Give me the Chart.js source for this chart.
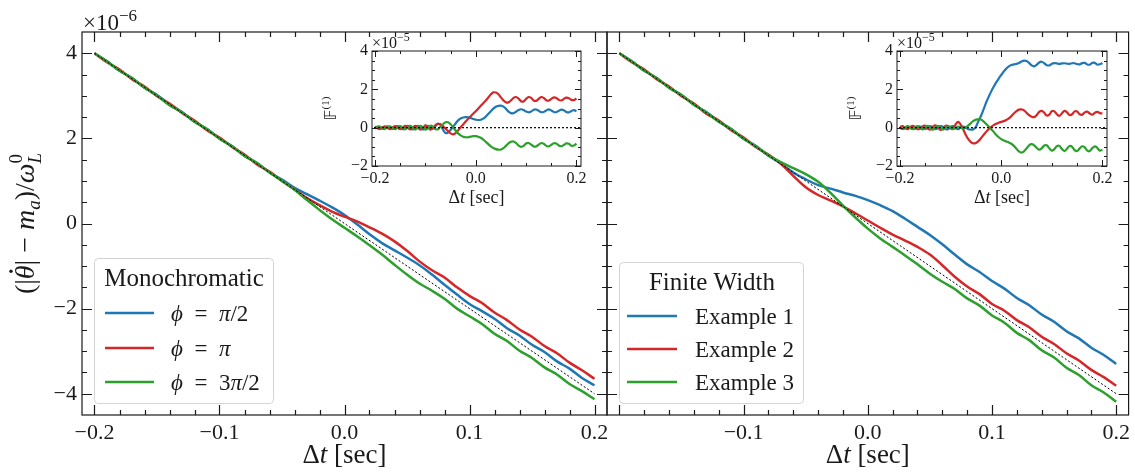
<!DOCTYPE html>
<html>
<head>
<meta charset="utf-8">
<title>Monochromatic vs finite width</title>
<script src="https://cdn.jsdelivr.net/npm/chart.js@4/dist/chart.umd.min.js"></script>
<style>
  html, body { margin: 0; padding: 0; background: #fff; }
  #stage { position: relative; width: 1135px; height: 474px; overflow: hidden; }
  #stage canvas { position: absolute; }
</style>
</head>
<body>
<div id="stage">
  <canvas id="mainLeft" width="620" height="474" style="left:0;top:0"></canvas>
  <canvas id="mainRight" width="535" height="474" style="left:600px;top:0"></canvas>
  <canvas id="insetLeft" width="275" height="185" style="left:320px;top:28px"></canvas>
  <canvas id="insetRight" width="275" height="185" style="left:845px;top:28px"></canvas>
</div>
<script>
// main panels, values in units of 1e-6
const mainT = [-0.2,-0.19,-0.18,-0.17,-0.16,-0.15,-0.14,-0.13,-0.12,-0.11,
  -0.1,-0.09,-0.08,-0.07,-0.06,-0.05,-0.04,-0.03,-0.02,-0.01,
  0,0.01,0.02,0.03,0.04,0.05,0.06,0.07,0.08,0.09,
  0.1,0.11,0.12,0.13,0.14,0.15,0.16,0.17,0.18,0.19,0.2];

const monoBlue = [4.00,3.81,3.59,3.42,3.19,3.02,2.80,2.62,2.39,2.22,
  2.00,1.82,1.59,1.42,1.20,1.03,0.84,0.69,0.54,0.38,
  0.20,-0.02,-0.25,-0.46,-0.63,-0.80,-0.98,-1.20,-1.44,-1.67,
  -1.89,-2.06,-2.24,-2.46,-2.63,-2.85,-3.02,-3.24,-3.41,-3.63,-3.80];
const monoRed = [4.00,3.79,3.62,3.39,3.22,2.99,2.82,2.60,2.42,2.19,
  2.02,1.80,1.62,1.39,1.22,1.00,0.80,0.60,0.43,0.28,
  0.16,0.05,-0.09,-0.24,-0.42,-0.64,-0.89,-1.10,-1.27,-1.50,
  -1.70,-1.87,-2.09,-2.27,-2.49,-2.66,-2.88,-3.05,-3.27,-3.45,-3.65];
const monoGreen = [4.00,3.81,3.59,3.42,3.19,3.01,2.78,2.61,2.39,2.22,
  1.99,1.81,1.59,1.42,1.20,1.00,0.79,0.55,0.32,0.10,
  -0.10,-0.30,-0.51,-0.73,-0.97,-1.20,-1.41,-1.58,-1.77,-2.00,
  -2.18,-2.36,-2.59,-2.76,-2.99,-3.16,-3.38,-3.55,-3.77,-3.94,-4.13];

const finiteBlue = [4.00,3.81,3.59,3.42,3.19,3.02,2.79,2.62,2.40,2.22,
  1.99,1.82,1.59,1.41,1.20,1.04,0.90,0.82,0.73,0.65,
  0.55,0.43,0.29,0.11,-0.08,-0.27,-0.49,-0.73,-0.96,-1.14,
  -1.35,-1.53,-1.75,-1.92,-2.14,-2.31,-2.53,-2.70,-2.92,-3.09,-3.30];
const finiteRed = [4.00,3.79,3.62,3.39,3.22,2.99,2.82,2.58,2.42,2.19,
  2.02,1.79,1.62,1.40,1.12,0.85,0.67,0.54,0.40,0.24,
  0.07,-0.10,-0.26,-0.40,-0.55,-0.73,-0.98,-1.25,-1.48,-1.66,
  -1.89,-2.05,-2.27,-2.44,-2.66,-2.83,-3.05,-3.22,-3.44,-3.61,-3.81];
const finiteGreen = [4.00,3.81,3.59,3.42,3.19,3.02,2.79,2.61,2.39,2.22,
  1.99,1.81,1.60,1.44,1.30,1.16,0.98,0.72,0.42,0.14,
  -0.12,-0.35,-0.55,-0.75,-0.96,-1.18,-1.37,-1.54,-1.76,-1.93,
  -2.16,-2.33,-2.57,-2.74,-2.98,-3.15,-3.39,-3.56,-3.80,-3.97,-4.19];

// dotted reference line
const refT = [-0.2, 0.2];
const refY = [4, -4];

// insets, values in units of 1e-5
const insetT = [-0.2,-0.195,-0.19,-0.185,-0.18,-0.175,-0.17,-0.165,-0.16,-0.155,
  -0.15,-0.145,-0.14,-0.135,-0.13,-0.125,-0.12,-0.115,-0.11,-0.105,
  -0.1,-0.095,-0.09,-0.085,-0.08,-0.075,-0.07,-0.065,-0.06,-0.055,
  -0.05,-0.045,-0.04,-0.035,-0.03,-0.025,-0.02,-0.015,-0.01,-0.005,
  0,0.005,0.01,0.015,0.02,0.025,0.03,0.035,0.04,0.045,
  0.05,0.055,0.06,0.065,0.07,0.075,0.08,0.085,0.09,0.095,
  0.1,0.105,0.11,0.115,0.12,0.125,0.13,0.135,0.14,0.145,
  0.15,0.155,0.16,0.165,0.17,0.175,0.18,0.185,0.19,0.195,0.2];

const monoInsetBlue = [0,0.06,0,-0.06,0,0.07,0,-0.07,0,0.08,
  0,-0.08,0,0.09,0,-0.09,0,0.1,0,-0.1,
  0,0.1,0,-0.05,0.08,0.2,0.15,-0.1,-0.28,-0.25,
  -0.12,0.05,0.22,0.38,0.48,0.53,0.55,0.54,0.5,0.45,
  0.42,0.4,0.41,0.47,0.58,0.72,0.86,0.99,1.09,1.14,
  1.15,1.1,0.98,0.84,0.76,0.76,0.83,0.92,0.96,0.92,
  0.84,0.8,0.84,0.93,0.95,0.88,0.81,0.82,0.9,0.95,
  0.9,0.82,0.81,0.88,0.94,0.91,0.82,0.8,0.87,0.92,0.86];
const monoInsetRed = [0.05,-0.03,-0.07,0.02,0.07,-0.02,-0.08,0.01,0.08,-0.01,
  -0.08,0,0.09,0,-0.09,0,0.1,0.01,-0.1,-0.01,
  0.12,0.03,-0.1,-0.02,0.14,0.2,0.18,0.08,-0.05,-0.18,
  -0.3,-0.35,-0.28,-0.14,0.02,0.17,0.32,0.46,0.6,0.73,
  0.86,1,1.14,1.28,1.42,1.58,1.74,1.84,1.83,1.74,
  1.58,1.42,1.32,1.32,1.42,1.55,1.6,1.52,1.38,1.37,
  1.5,1.6,1.55,1.42,1.4,1.5,1.6,1.55,1.43,1.41,
  1.5,1.58,1.55,1.45,1.42,1.5,1.57,1.54,1.45,1.44,1.52];
const monoInsetGreen = [-0.05,0.04,0.06,-0.03,-0.07,0.03,0.07,-0.02,-0.08,0.02,
  0.08,-0.01,-0.09,0.01,0.09,0,-0.1,0,0.1,0.01,
  -0.1,-0.02,0.1,0.05,-0.08,-0.08,0.05,0.18,0.28,0.28,
  0.18,0.02,-0.15,-0.3,-0.4,-0.47,-0.5,-0.5,-0.47,-0.44,
  -0.44,-0.47,-0.53,-0.62,-0.74,-0.86,-0.97,-1.06,-1.12,-1.15,
  -1.14,-1.07,-0.95,-0.82,-0.73,-0.72,-0.8,-0.93,-1,-0.95,
  -0.83,-0.8,-0.88,-0.98,-0.98,-0.88,-0.8,-0.84,-0.95,-0.98,
  -0.9,-0.81,-0.83,-0.93,-0.97,-0.9,-0.82,-0.84,-0.94,-0.93,-0.84];

const finiteInsetBlue = [0.02,-0.05,-0.03,0.05,0.04,-0.05,-0.05,0.04,0.06,-0.03,
  -0.07,0.02,0.08,0,-0.08,-0.02,0.08,0.05,-0.07,-0.08,
  0.05,0.08,-0.03,-0.08,0.02,0.06,0,-0.08,-0.1,-0.08,
  0.05,0.35,0.62,0.95,1.3,1.6,1.88,2.13,2.36,2.56,
  2.75,2.93,3.08,3.2,3.27,3.3,3.33,3.38,3.45,3.5,
  3.48,3.38,3.25,3.2,3.28,3.4,3.44,3.36,3.26,3.25,
  3.33,3.37,3.35,3.33,3.35,3.36,3.34,3.33,3.36,3.36,
  3.32,3.3,3.37,3.38,3.3,3.29,3.38,3.38,3.29,3.31,3.37];
const finiteInsetRed = [0.05,0.08,-0.02,-0.08,0.02,0.09,0.03,-0.08,-0.05,0.08,
  0.1,-0.05,-0.1,0.05,0.12,0,-0.12,-0.05,0.1,0.08,
  -0.05,-0.05,0.18,0.3,0.15,-0.1,-0.38,-0.6,-0.75,-0.82,
  -0.8,-0.7,-0.55,-0.38,-0.22,-0.08,0.04,0.13,0.2,0.26,
  0.3,0.34,0.4,0.48,0.6,0.74,0.86,0.94,0.95,0.9,
  0.78,0.65,0.57,0.55,0.65,0.82,0.88,0.78,0.63,0.68,
  0.86,0.85,0.7,0.62,0.75,0.88,0.8,0.66,0.7,0.85,
  0.84,0.7,0.68,0.8,0.84,0.74,0.68,0.78,0.82,0.76,0.74];
const finiteInsetGreen = [0,-0.08,0.02,0.08,-0.02,-0.08,0.03,0.08,-0.03,-0.09,
  0.03,0.09,-0.03,-0.1,0.03,0.1,-0.02,-0.1,0.02,0.1,
  0,-0.08,0,0.06,0,-0.04,0.02,0.12,0.24,0.35,
  0.42,0.45,0.42,0.33,0.2,0.06,-0.08,-0.22,-0.37,-0.5,
  -0.6,-0.67,-0.72,-0.77,-0.84,-0.95,-1.1,-1.24,-1.3,-1.24,
  -1.08,-0.92,-0.86,-0.92,-1.05,-1.15,-1.08,-0.93,-0.92,-1.08,
  -1.2,-1.12,-0.96,-0.95,-1.12,-1.22,-1.1,-0.96,-1,-1.17,
  -1.22,-1.08,-0.97,-1.03,-1.2,-1.22,-1.07,-0.98,-1.06,-1.2,-1.15];

// dotted zero line of the insets
const zeroT = [-0.21, 0.21];
const zeroY = [0, 0];

const monoTitle = 'Monochromatic';
const monoLabels = ['ϕ = π/2', 'ϕ = π', 'ϕ = 3π/2'];
const finiteTitle = 'Finite Width';
const finiteLabels = ['Example 1', 'Example 2', 'Example 3'];

const mainXTicks = [-0.2, -0.1, 0, 0.1, 0.2];
const mainYTicks = [-4, -2, 0, 2, 4];
const insetXTicks = [-0.2, 0, 0.2];
const insetYTicks = [-2, 0, 2, 4];

// styling
const BLUE = '#1f77b4', RED = '#d62728', GREEN = '#2ca02c';
const INK = '#1a1a1a';
const SERIF = '"Liberation Serif", "DejaVu Serif", serif';
const font = (size, italic) => (italic ? 'italic ' : '') + size + 'px ' + SERIF;
const fmt = (v, digits) => (v < 0 ? '\u2212' : '') + Math.abs(v).toFixed(digits);
const isGreek = ch => /[\u03b1-\u03c9\u03d5]/.test(ch);

function toXY(ts, ys) {
  return ts.map((t, i) => ({ x: t, y: ys[i] }));
}
function curve(ts, ys, color, width, order) {
  return { data: toXY(ts, ys), borderColor: color, borderWidth: width, pointRadius: 0,
           tension: 0.35, fill: false, order: order };
}
function dotted(ts, ys, width) {
  return { data: toXY(ts, ys), borderColor: '#000', borderWidth: width, borderDash: [2, 2],
           pointRadius: 0, tension: 0, fill: false, order: 0 };
}

// draw a row of text pieces (fonts / offsets can change per piece)
function rich(ctx, parts, x, y, align) {
  let w = 0;
  parts.forEach(p => { ctx.font = p.f; if (!p.stay) w += ctx.measureText(p.t).width; });
  let cx = align === 'center' ? x - w / 2 : x;
  ctx.textAlign = 'left';
  ctx.textBaseline = 'alphabetic';
  parts.forEach(p => {
    ctx.font = p.f;
    ctx.fillText(p.t, cx, y + (p.dy || 0));
    const pw = ctx.measureText(p.t).width;
    if (p.dot) {
      ctx.beginPath();
      ctx.arc(cx + pw * 0.58, y - p.dot, 1.7, 0, Math.PI * 2);
      ctx.fill();
    }
    if (!p.stay) cx += pw;
  });
}

const xLabel = size => [{ t: 'Δ', f: font(size) }, { t: 't', f: font(size, true) }, { t: ' [sec]', f: font(size) }];

function labelParts(label, size) {
  const greek = Array.from(label).some(isGreek);
  return Array.from(label).map(ch => ({
    t: ch === ' ' && greek ? '\u2002' : ch,
    f: font(size, isGreek(ch))
  }));
}

function drawLegend(ctx, L, title, labels, colors) {
  ctx.save();
  ctx.beginPath();
  ctx.roundRect(L.x + 0.5, L.y + 0.5, L.w, L.h, 4);
  ctx.fillStyle = 'rgba(255,255,255,0.85)';
  ctx.fill();
  ctx.strokeStyle = '#d4d4d4';
  ctx.lineWidth = 1;
  ctx.stroke();
  ctx.fillStyle = INK;
  rich(ctx, [{ t: title, f: font(25) }], L.cx, L.titleY, 'center');
  labels.forEach((lab, i) => {
    const y = L.rows[i];
    ctx.strokeStyle = colors[i];
    ctx.lineWidth = 2.6;
    ctx.beginPath();
    ctx.moveTo(L.x0, y);
    ctx.lineTo(L.x1, y);
    ctx.stroke();
    rich(ctx, labelParts(lab, 23), L.tx, y + 8, 'left');
  });
  ctx.restore();
}

function between(min, max, step) {
  const out = [];
  for (let k = Math.ceil(min / step - 1e-9); k * step <= max + 1e-9; k++) {
    const v = k * step;
    if (v > min + 1e-9 && v < max - 1e-9) out.push(v);
  }
  return out;
}

// frame with inward ticks on all four sides
function framePlugin(o) {
  return {
    id: 'frame',
    beforeDatasetsDraw(chart) {
      if (!o.fillBg) return;
      const a = chart.chartArea, ctx = chart.ctx;
      ctx.save();
      ctx.fillStyle = '#fff';
      ctx.fillRect(a.left, a.top, a.right - a.left, a.bottom - a.top);
      ctx.restore();
    },
    afterDatasetsDraw(chart) {
      const { ctx, chartArea: a, scales: { x, y } } = chart;
      ctx.save();
      ctx.strokeStyle = INK;
      ctx.lineWidth = o.lw;
      ctx.beginPath();
      const xt = (v, len) => {
        const p = Math.round(x.getPixelForValue(v)) + 0.5;
        ctx.moveTo(p, a.bottom); ctx.lineTo(p, a.bottom - len);
        ctx.moveTo(p, a.top); ctx.lineTo(p, a.top + len);
      };
      const yt = (v, len) => {
        const p = Math.round(y.getPixelForValue(v)) + 0.5;
        ctx.moveTo(a.left, p); ctx.lineTo(a.left + len, p);
        ctx.moveTo(a.right, p); ctx.lineTo(a.right - len, p);
      };
      between(x.min, x.max, o.xMinor).forEach(v => xt(v, o.minor));
      between(y.min, y.max, o.yMinor).forEach(v => yt(v, o.minor));
      o.xMajor.forEach(v => xt(v, o.major));
      o.yMajor.forEach(v => yt(v, o.major));
      ctx.stroke();
      ctx.strokeRect(a.left, a.top, a.right - a.left, a.bottom - a.top);
      ctx.restore();
    }
  };
}

function makeChart(id, box, datasets, ax, extra) {
  return new Chart(document.getElementById(id), {
    type: 'line',
    data: { datasets },
    options: {
      responsive: false,
      animation: false,
      devicePixelRatio: 1,
      layout: { padding: { left: 0, top: box.top, right: box.w - box.right, bottom: 0 } },
      plugins: { legend: { display: false }, tooltip: { enabled: false } },
      scales: {
        x: {
          type: 'linear', min: ax.xMin, max: ax.xMax,
          grid: { display: false, drawTicks: false }, border: { display: false },
          afterBuildTicks: s => { s.ticks = ax.xTicks.map(v => ({ value: v })); },
          afterFit: s => { s.height = box.h - box.bottom; },
          ticks: { autoSkip: false, maxRotation: 0, padding: ax.xPad, color: INK,
                   font: { family: SERIF, size: ax.fs },
                   callback: v => (ax.skipX && ax.skipX.includes(v)) ? '' : fmt(v, 1) }
        },
        y: {
          type: 'linear', min: ax.yMin, max: ax.yMax,
          grid: { display: false, drawTicks: false }, border: { display: false },
          afterBuildTicks: s => { s.ticks = ax.yTicks.map(v => ({ value: v })); },
          afterFit: s => { s.width = box.left; },
          ticks: { display: ax.yLabels, padding: ax.yPad, color: INK,
                   font: { family: SERIF, size: ax.fs }, callback: v => fmt(v, 0) }
        }
      }
    },
    plugins: [framePlugin(ax.frame)].concat(extra)
  });
}

const mainAxes = (yLabels, skipX) => ({
  xMin: -0.21, xMax: 0.21, yMin: -4.5, yMax: 4.5, xTicks: mainXTicks, yTicks: mainYTicks,
  fs: 22, xPad: 5, yPad: 5, yLabels: yLabels, skipX: skipX,
  frame: { lw: 1.2, major: 10, minor: 5, xMajor: mainXTicks, yMajor: mainYTicks, xMinor: 0.02, yMinor: 0.5 }
});
const insetAxes = {
  xMin: -0.206, xMax: 0.209, yMin: -2, yMax: 4, xTicks: insetXTicks, yTicks: insetYTicks,
  fs: 16, xPad: 3, yPad: 4, yLabels: true,
  frame: { lw: 1, major: 6, minor: 3, xMajor: insetXTicks, yMajor: insetYTicks, xMinor: 0.05, yMinor: 0.5, fillBg: true }
};

// text for the main panels
function mainText(id, legend, title, labels, withY) {
  return {
    id: id,
    afterDraw(chart) {
      const ctx = chart.ctx, a = chart.chartArea;
      ctx.save();
      ctx.fillStyle = INK;
      rich(ctx, xLabel(27), (a.left + a.right) / 2, 463, 'center');
      if (withY) {
        rich(ctx, [{ t: '×10', f: font(23) }, { t: '\u22126', f: font(17), dy: -9 }], a.left + 1, 30, 'left');
        ctx.translate(34, (a.top + a.bottom) / 2);
        ctx.rotate(-Math.PI / 2);
        rich(ctx, [
          { t: '(|', f: font(28) },
          { t: 'θ', f: font(28, true), dot: 23 },
          { t: '| \u2212 ', f: font(28) },
          { t: 'm', f: font(28, true) },
          { t: 'a', f: font(19, true), dy: 6 },
          { t: ')/', f: font(28) },
          { t: 'ω', f: font(28, true) },
          { t: '0', f: font(19), dy: -12, stay: true },
          { t: 'L', f: font(19, true), dy: 7 }
        ], 0, 0, 'center');
      }
      ctx.restore();
      drawLegend(ctx, legend, title, labels, [BLUE, RED, GREEN]);
    }
  };
}

function insetText(id) {
  return {
    id: id,
    afterDraw(chart) {
      const ctx = chart.ctx, a = chart.chartArea;
      ctx.save();
      ctx.fillStyle = INK;
      rich(ctx, [{ t: '×10', f: font(16) }, { t: '\u22125', f: font(12), dy: -7 }], a.left, a.top - 3, 'left');
      rich(ctx, xLabel(18), (a.left + a.right) / 2, 175, 'center');
      ctx.translate(a.left - 36, (a.top + a.bottom) / 2);
      ctx.rotate(-Math.PI / 2);
      rich(ctx, [
        { t: '𝔽', f: '16px "DejaVu Sans", "DejaVu Serif", sans-serif' },
        { t: '(1)', f: font(11), dy: -7 }
      ], 0, 0, 'center');
      ctx.restore();
    }
  };
}

const legendLeft = { x: 94, y: 258, w: 179, h: 145, cx: 184, titleY: 286, rows: [313, 348, 382], x0: 105, x1: 154, tx: 171 };
const legendRight = { x: 19, y: 262, w: 184, h: 141, cx: 112, titleY: 290, rows: [316, 349, 382], x0: 27, x1: 77, tx: 95 };

makeChart('mainLeft', { w: 620, h: 474, left: 82, right: 607, top: 32, bottom: 415 }, [
  curve(mainT, monoBlue, BLUE, 2.5, 3),
  curve(mainT, monoRed, RED, 2.5, 2),
  curve(mainT, monoGreen, GREEN, 2.5, 1),
  dotted(refT, refY, 1)
], mainAxes(true, null), [mainText('textLeft', legendLeft, monoTitle, monoLabels, true)]);

makeChart('mainRight', { w: 535, h: 474, left: 7, right: 532, top: 32, bottom: 415 }, [
  curve(mainT, finiteBlue, BLUE, 2.5, 3),
  curve(mainT, finiteRed, RED, 2.5, 2),
  curve(mainT, finiteGreen, GREEN, 2.5, 1),
  dotted(refT, refY, 1)
], mainAxes(false, [-0.2]), [mainText('textRight', legendRight, finiteTitle, finiteLabels, false)]);

makeChart('insetLeft', { w: 275, h: 185, left: 52, right: 261, top: 23, bottom: 138 }, [
  curve(insetT, monoInsetBlue, BLUE, 2.2, 3),
  curve(insetT, monoInsetRed, RED, 2.2, 2),
  curve(insetT, monoInsetGreen, GREEN, 2.2, 1),
  dotted(zeroT, zeroY, 1.2)
], insetAxes, [insetText('insetTextLeft')]);

makeChart('insetRight', { w: 275, h: 185, left: 52, right: 262, top: 23, bottom: 138 }, [
  curve(insetT, finiteInsetBlue, BLUE, 2.2, 3),
  curve(insetT, finiteInsetRed, RED, 2.2, 2),
  curve(insetT, finiteInsetGreen, GREEN, 2.2, 1),
  dotted(zeroT, zeroY, 1.2)
], insetAxes, [insetText('insetTextRight')]);
</script>
</body>
</html>
